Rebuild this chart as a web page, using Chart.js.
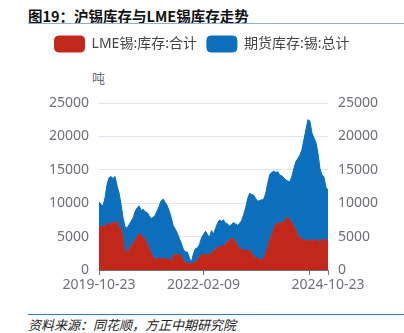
<!DOCTYPE html>
<html>
<head>
<meta charset="utf-8">
<script src="https://cdn.jsdelivr.net/npm/chart.js@4"></script>
<style>
  body { margin: 0; width: 404px; height: 333px; background: #fff; position: relative; overflow: hidden;
         font-family: "Noto Sans", "Noto Sans CJK SC", sans-serif; }
  .title { position: absolute; left: 28px; top: 5px; font-size: 14.5px; font-weight: bold; color: #111;
           font-family: "Noto Sans CJK SC", sans-serif; }
  .title-line { position: absolute; left: 28px; top: 23px; width: 376px; border-top: 1.5px solid #8fb0cc; }
  .unit { position: absolute; left: 92px; top: 68px; font-size: 13px; color: #6e7079; }
  .foot-line { position: absolute; left: 28px; top: 314px; width: 376px; border-top: 1.5px solid #3b78b4; }
  .source { position: absolute; left: 28px; top: 315px; font-size: 13px; font-style: italic; color: #222;
            font-family: "Noto Sans CJK SC", sans-serif; }
  #wrap { position: absolute; left: 0; top: 26px; width: 404px; height: 274px; }
</style>
</head>
<body>
<div class="title">图19：沪锡库存与LME锡库存走势</div>
<div class="title-line"></div>
<div class="unit">吨</div>
<div id="wrap"><canvas id="tinChart"></canvas></div>
<div class="foot-line"></div>
<div class="source">资料来源：同花顺，方正中期研究院</div>

<script>
// ==== DỮ LIỆU (mỗi điểm ~ 2 tuần) ====
const tickLabels = ["2019-10-23", "2022-02-09", "2024-10-23"];
const tickIndex = [0, 52, 114];
const extraTick = 105; // vạch chia không có nhãn

// LME锡:库存:合计
const lmeStock = [
  6300, 6500, 6600, 6400, 6900, 7000, 6800, 7200, 7000, 7300,
  6300, 6200, 4800, 2500, 2700, 3100, 3600, 4100, 4500, 5000,
  5400, 5300, 4900, 4600, 3900, 3200, 2400, 1900, 1700, 1600,
  1800, 1700, 1600, 1800, 1700, 1500, 1300, 2200, 2300, 2400,
  2300, 2100, 1400, 1100, 1000, 1000, 900, 1000, 1200, 1500,
  2000, 2300, 2400, 2300, 2200, 2300, 2600, 2800, 3200, 3300,
  3500, 3600, 3600, 3900, 4200, 4500, 4800, 4600, 4200, 3700,
  3200, 3000, 3000, 3000, 3000, 2900, 2500, 2000, 1800, 1800,
  1600, 1500, 1700, 2500, 3300, 4500, 5200, 6200, 6800, 7000,
  7100, 7000, 7200, 7700, 7900, 7500, 7000, 6500, 6000, 5200,
  4900, 4500, 4500, 4400, 4600, 4300, 4500, 4400, 4600, 4400,
  4200, 4500, 4600, 4500, 4500
];

// 期货库存:锡:总计 (上期所)
const shfeStock = [
  3900, 3300, 3000, 4400, 5900, 6800, 7200, 6500, 7000, 5300,
  5200, 3600, 3000, 3900, 3600, 3700, 3700, 3700, 4300, 4300,
  4200, 3600, 4200, 4100, 4700, 4900, 5300, 6000, 6500, 7300,
  7800, 8700, 9000, 8300, 7900, 7300, 6500, 4400, 3800, 3100,
  2400, 1900, 1700, 1600, 1700, 800, 300, 1400, 2000, 1800,
  1800, 2500, 2900, 3500, 3100, 2600, 3300, 2600, 3000, 3700,
  4000, 3700, 3900, 3100, 2700, 2100, 2000, 2500, 2700, 3000,
  3800, 4400, 5300, 6300, 7700, 8600, 8800, 9200, 8900, 8500,
  8800, 9000, 8900, 9000, 9700, 9800, 9400, 8600, 7800, 7700,
  7100, 7100, 6600, 5800, 5400, 5700, 7000, 8700, 10200, 11500,
  12300, 13500, 15000, 16600, 17900, 18000, 16000, 15400, 14500, 13100,
  11000, 9800, 9300, 7900, 7400
];

const yTicks = [0, 5000, 10000, 15000, 20000, 25000];

const RED = "#c1281a";
const BLUE = "#0b6fbd";
const AXIS = "#6e7079";
const FONT = "'Noto Sans', 'Noto Sans CJK SC', sans-serif";

function toPoints(arr) {
  return arr.map((v, i) => ({ x: i, y: v }));
}

// đẩy vùng vẽ xuống dưới legend
const legendGap = {
  id: "legendGap",
  beforeInit(chart) {
    if (!chart.legend) return;
    const fit = chart.legend.fit;
    chart.legend.fit = function () {
      fit.bind(chart.legend)();
      this.height += 41;
    };
  },
};

const ctx = document.getElementById("tinChart").getContext("2d");
new Chart(ctx, {
  type: "line",
  data: {
    datasets: [
      {
        label: "LME锡:库存:合计",
        data: toPoints(lmeStock),
        backgroundColor: RED,
        borderColor: RED,
        borderWidth: 1,
        pointRadius: 0,
        tension: 0,
        fill: "origin",
      },
      {
        label: "期货库存:锡:总计",
        data: toPoints(shfeStock),
        backgroundColor: BLUE,
        borderColor: BLUE,
        borderWidth: 1,
        pointRadius: 0,
        tension: 0,
        fill: "-1",
      },
    ],
  },
  plugins: [legendGap],
  options: {
    responsive: true,
    maintainAspectRatio: false,
    animation: false,
    layout: { padding: 0 },
    plugins: {
      tooltip: { enabled: false },
      legend: {
        position: "top",
        labels: {
          boxWidth: 30,
          boxHeight: 16,
          padding: 10,
          useBorderRadius: true,
          borderRadius: 4,
          color: "#444",
          font: { size: 14, family: FONT },
        },
      },
    },
    scales: {
      x: {
        type: "linear",
        min: 0,
        max: lmeStock.length - 1,
        afterBuildTicks: (axis) => {
          axis.ticks = [0, tickIndex[1], extraTick, tickIndex[2]].map((v) => ({ value: v }));
        },
        afterFit: (axis) => { axis.height = 30; },
        ticks: {
          autoSkip: false,
          maxRotation: 0,
          padding: 2,
          color: AXIS,
          font: { size: 14, family: FONT },
          callback: (value) => {
            const k = tickIndex.indexOf(value);
            return k >= 0 ? tickLabels[k] : "";
          },
        },
        grid: { drawOnChartArea: false, drawTicks: true, tickLength: 5, color: AXIS },
        border: { display: true, color: AXIS, width: 1 },
      },
      y: {
        position: "left",
        stacked: true,
        min: 0,
        max: 25000,
        afterBuildTicks: (axis) => { axis.ticks = yTicks.map((v) => ({ value: v })); },
        afterFit: (axis) => { axis.width = 99; },
        ticks: {
          padding: 10,
          color: AXIS,
          font: { size: 14, family: FONT },
          callback: (value) => String(value),
        },
        grid: { color: "#e0e6f1", drawTicks: false },
        border: { display: false },
      },
      y1: {
        position: "right",
        min: 0,
        max: 25000,
        afterBuildTicks: (axis) => { axis.ticks = yTicks.map((v) => ({ value: v })); },
        afterFit: (axis) => { axis.width = 76; },
        ticks: {
          padding: 10,
          color: AXIS,
          font: { size: 14, family: FONT },
          callback: (value) => String(value),
        },
        grid: { display: false, drawTicks: false },
        border: { display: false },
      },
    },
  },
});
</script>
</body>
</html>
